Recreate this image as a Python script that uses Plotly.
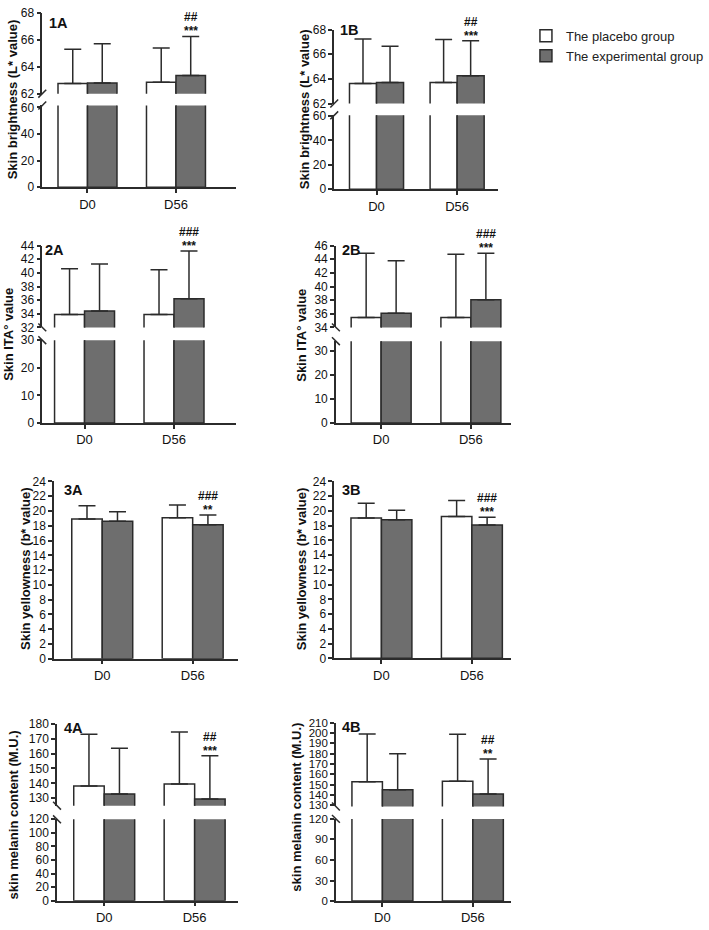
import plotly.graph_objects as go

# ---------------- data ----------------
categories = ["D0", "D56"]
cat_pos = [0, 1]

placebo_1A = [62.75, 62.85]
placebo_1A_sd = [2.55, 2.55]
exp_1A = [62.8, 63.35]
exp_1A_sd = [2.9, 2.9]

placebo_1B = [63.62, 63.7]
placebo_1B_sd = [3.63, 3.5]
exp_1B = [63.7, 64.26]
exp_1B_sd = [2.95, 2.84]

placebo_2A = [33.88, 33.88]
placebo_2A_sd = [6.72, 6.57]
exp_2A = [34.4, 36.2]
exp_2A_sd = [6.9, 7.0]

placebo_2B = [35.45, 35.45]
placebo_2B_sd = [9.45, 9.3]
exp_2B = [36.07, 38.05]
exp_2B_sd = [7.7, 6.85]

placebo_3A = [18.9, 19.07]
placebo_3A_sd = [1.8, 1.73]
exp_3A = [18.6, 18.13]
exp_3A_sd = [1.3, 1.34]

placebo_3B = [19.05, 19.25]
placebo_3B_sd = [2.0, 2.15]
exp_3B = [18.8, 18.1]
exp_3B_sd = [1.3, 1.05]

placebo_4A = [138.3, 139.5]
placebo_4A_sd = [34.7, 35.0]
exp_4A = [132.8, 129.5]
exp_4A_sd = [30.7, 29.1]

placebo_4B = [152.9, 153.5]
placebo_4B_sd = [46.3, 45.5]
exp_4B = [145.2, 141.0]
exp_4B_sd = [34.7, 34.0]

sig_1A = ["##", "***"]
sig_1B = ["##", "***"]
sig_2A = ["###", "***"]
sig_2B = ["###", "***"]
sig_3A = ["###", "**"]
sig_3B = ["###", "***"]
sig_4A = ["##", "***"]
sig_4B = ["##", "**"]

ytitle_1 = "Skin brightness (L* value)"
ytitle_2 = "Skin ITA° value"
ytitle_3 = "Skin yellowness (b* value)"
ytitle_4 = "skin melanin content (M.U.)"

legend_names = ["The placebo group", "The experimental group"]

# ---------------- layout geometry (pixels) ----------------
W, H = 709, 930
FONT = "Arial, Liberation Sans, sans-serif"
DARK = "#2b2b2b"
GREY = "#6e6e6e"


def pxx(x):
    return x / W


def pyy(y):
    return 1 - y / H


panels = [
    dict(lab="1A", p=placebo_1A, ps=placebo_1A_sd, e=exp_1A, es=exp_1A_sd, sig=sig_1A, title=ytitle_1,
         xl=43, xr=240, c0=89, c1=179, bw=30, tf=12,
         segs=[(62, 68, 88, 6, [62, 64, 66, 68]), (0, 61.5, 183, 100, [0, 20, 40, 60])],
         slash="/", tx=13, ty=94, lx=48, ly=16),
    dict(lab="1B", p=placebo_1B, ps=placebo_1B_sd, e=exp_1B, es=exp_1B_sd, sig=sig_1B, title=ytitle_1,
         xl=340, xr=507, c0=383, c1=465, bw=27.5, tf=12,
         segs=[(62, 68, 98, 23, [62, 64, 66, 68]), (0, 60.5, 185, 110, [0, 20, 40, 60])],
         slash="/", tx=310, ty=104, lx=344, ly=23),
    dict(lab="2A", p=placebo_2A, ps=placebo_2A_sd, e=exp_2A, es=exp_2A_sd, sig=sig_2A, title=ytitle_2,
         xl=43, xr=240, c0=86, c1=177, bw=30.5, tf=12,
         segs=[(32, 44, 325.3, 242.3, [32, 34, 36, 38, 40, 42, 44]), (0, 30, 422.3, 338.3, [0, 10, 20, 30])],
         slash="\\", tx=8, ty=332, lx=44, ly=247),
    dict(lab="2B", p=placebo_2B, ps=placebo_2B_sd, e=exp_2B, es=exp_2B_sd, sig=sig_2B, title=ytitle_2,
         xl=341.7, xr=520, c0=387.7, c1=479, bw=30.5, tf=12,
         segs=[(34, 46, 325.3, 242.3, [34, 36, 38, 40, 42, 44, 46]), (0, 34, 422.3, 339.3, [0, 10, 20, 30])],
         slash="\\", tx=307, ty=333, lx=346, ly=247),
    dict(lab="3A", p=placebo_3A, ps=placebo_3A_sd, e=exp_3A, es=exp_3A_sd, sig=sig_3A, title=ytitle_3,
         xl=55, xr=242, c0=104, c1=196, bw=31, tf=12,
         segs=[(0, 24, 661.7, 481.7, list(range(0, 25, 2)))],
         slash=None, tx=26, ty=570, lx=63, ly=490),
    dict(lab="3B", p=placebo_3B, ps=placebo_3B_sd, e=exp_3B, es=exp_3B_sd, sig=sig_3B, title=ytitle_3,
         xl=340, xr=520, c0=388, c1=480, bw=31, tf=12,
         segs=[(0, 24, 661.3, 481.7, list(range(0, 25, 2)))],
         slash=None, tx=307, ty=570, lx=346, ly=490),
    dict(lab="4A", p=placebo_4A, ps=placebo_4A_sd, e=exp_4A, es=exp_4A_sd, sig=sig_4A, title=ytitle_4,
         xl=58, xr=242, c0=106, c1=198, bw=31, tf=12,
         segs=[(125, 180, 810.9, 727.7, [130, 140, 150, 160, 170, 180]),
               (0, 120, 907.3, 824.7, [0, 20, 40, 60, 80, 100, 120])],
         slash="\\", tx=14, ty=820, lx=63, ly=732),
    dict(lab="4B", p=placebo_4B, ps=placebo_4B_sd, e=exp_4B, es=exp_4B_sd, sig=sig_4B, title=ytitle_4,
         xl=341.7, xr=520, c0=389, c1=481, bw=31, tf=11.5,
         segs=[(129, 210, 811.7, 726.7, [130, 140, 150, 160, 170, 180, 190, 200, 210]),
               (0, 120, 907.7, 824.3, [0, 30, 60, 90, 120])],
         slash="\\", tx=302, ty=812, lx=346, ly=731),
]

fig = go.Figure()
layout = {}
annotations = []
shapes = []
n = 0
legend_done = False

for P in panels:
    span = P["c1"] - P["c0"]
    xrange = [(P["xl"] - P["c0"]) / span, (P["xr"] - P["c0"]) / span]
    xdom = [pxx(P["xl"]), pxx(P["xr"])]
    w = P["bw"] / span
    nseg = len(P["segs"])
    for si, (ymin, ymax, pb, pt, tv) in enumerate(P["segs"]):
        n += 1
        sfx = "" if n == 1 else str(n)
        xid, yid = "x" + sfx, "y" + sfx
        is_top = si == 0
        is_bottom = si == nseg - 1
        layout["xaxis" + sfx] = dict(
            domain=xdom, range=xrange, anchor=yid,
            showline=is_bottom, linecolor=DARK, linewidth=1.5,
            tickmode="array", tickvals=cat_pos if is_bottom else [],
            ticktext=categories if is_bottom else [],
            showticklabels=is_bottom,
            ticks="outside" if is_bottom else "", ticklen=4, tickwidth=1.5, tickcolor=DARK,
            tickfont=dict(family=FONT, size=13, color="#111"),
            showgrid=False, zeroline=False, fixedrange=True,
        )
        layout["yaxis" + sfx] = dict(
            domain=[pyy(pb), pyy(pt)], range=[ymin, ymax], anchor=xid,
            showline=True, linecolor=DARK, linewidth=1.5,
            tickmode="array", tickvals=tv, ticks="outside", ticklen=4, tickwidth=1.5,
            tickcolor=DARK, tickfont=dict(family=FONT, size=P["tf"], color="#111"),
            showgrid=False, zeroline=False, fixedrange=True,
        )
        err_p = dict(type="data", symmetric=False, array=P["ps"], arrayminus=[0, 0],
                     color=DARK, thickness=1.5, width=8.5, visible=is_top)
        err_e = dict(type="data", symmetric=False, array=P["es"], arrayminus=[0, 0],
                     color=DARK, thickness=1.5, width=8.5, visible=is_top)
        show_leg = (not legend_done) and is_top
        fig.add_trace(go.Bar(
            x=cat_pos, y=P["p"], width=w, offset=-w, xaxis=xid, yaxis=yid,
            marker=dict(color="white", line=dict(color=DARK, width=1.5)),
            error_y=err_p, name=legend_names[0], showlegend=show_leg,
        ))
        fig.add_trace(go.Bar(
            x=cat_pos, y=P["e"], width=w, offset=0, xaxis=xid, yaxis=yid,
            marker=dict(color=GREY, line=dict(color=DARK, width=1.5)),
            error_y=err_e, name=legend_names[1], showlegend=show_leg,
        ))
        if show_leg:
            legend_done = True
        if is_top:
            top = P["e"][1] + P["es"][1]
            annotations.append(dict(x=1 + w / 2, y=top, xref=xid, yref=yid, text="<b>%s</b>" % P["sig"][1],
                                    showarrow=False, yanchor="middle", yshift=5,
                                    font=dict(family=FONT, size=12, color="#111")))
            annotations.append(dict(x=1 + w / 2, y=top, xref=xid, yref=yid, text="<b>%s</b>" % P["sig"][0],
                                    showarrow=False, yanchor="middle", yshift=19,
                                    font=dict(family=FONT, size=12, color="#111")))
    # break marks
    if nseg == 2 and P["slash"]:
        for yy in (P["segs"][0][2], P["segs"][1][3]):
            if P["slash"] == "/":
                x0, y0, x1, y1 = P["xl"] - 4, yy + 4, P["xl"] + 4, yy - 4
            else:
                x0, y0, x1, y1 = P["xl"] - 4, yy - 4, P["xl"] + 4, yy + 4
            shapes.append(dict(type="line", xref="paper", yref="paper",
                               x0=pxx(x0), y0=pyy(y0), x1=pxx(x1), y1=pyy(y1),
                               line=dict(color=DARK, width=1.5)))
    # y title
    annotations.append(dict(x=pxx(P["tx"]), y=pyy(P["ty"]), xref="paper", yref="paper",
                            text="<b>%s</b>" % P["title"], textangle=-90, showarrow=False,
                            xanchor="center", yanchor="middle",
                            font=dict(family=FONT, size=13, color="#111")))
    # panel label
    annotations.append(dict(x=pxx(P["lx"]), y=pyy(P["ly"]), xref="paper", yref="paper",
                            text="<b>%s</b>" % P["lab"], showarrow=False,
                            xanchor="left", yanchor="middle",
                            font=dict(family=FONT, size=14.5, color="#111")))

layout.update(dict(
    width=W, height=H, margin=dict(l=0, r=0, t=0, b=0),
    paper_bgcolor="white", plot_bgcolor="rgba(0,0,0,0)",
    barmode="overlay", annotations=annotations, shapes=shapes,
    showlegend=True,
    legend=dict(x=pxx(535), y=pyy(14), xanchor="left", yanchor="top",
                font=dict(family=FONT, size=13, color="#222"),
                bgcolor="rgba(0,0,0,0)", tracegroupgap=2),
))
fig.update_layout(**layout)
fig.write_html("out.html")
